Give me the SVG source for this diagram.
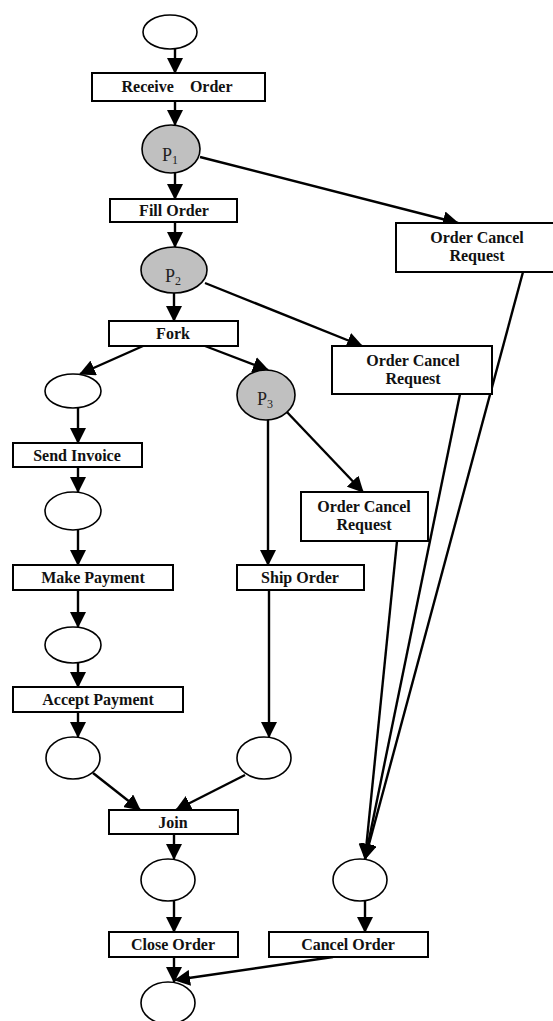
<svg xmlns="http://www.w3.org/2000/svg" width="553" height="1021" viewBox="0 0 553 1021">
<style>
.box{fill:#fff;stroke:#000;stroke-width:2}
.pl{fill:#fff;stroke:#000;stroke-width:1.6}
.pg{fill:#c0c0c0;stroke:#000;stroke-width:1.6}
.t{font-family:"Liberation Serif","Times New Roman",serif;font-weight:bold;font-size:16px;text-anchor:middle;fill:#111}
.p{font-family:"Liberation Serif","Times New Roman",serif;font-size:18px;fill:#222}
.s{font-size:12px}
.c line{stroke:#000;stroke-width:2.4;marker-end:url(#ah)}
</style>
<defs>
<marker id="ah" viewBox="0 0 16 16" refX="15" refY="8" markerWidth="16" markerHeight="16" markerUnits="userSpaceOnUse" orient="auto">
<path d="M0,0 L16,8 L0,16 Z" fill="#000"/>
</marker>
</defs>
<g id="connectors" class="c">
<line x1="175" y1="49" x2="175" y2="73"/>
<line x1="175" y1="101" x2="175" y2="125"/>
<line x1="175" y1="173" x2="175" y2="199"/>
<line x1="200" y1="157" x2="458" y2="223"/>
<line x1="175" y1="222" x2="175" y2="247"/>
<line x1="174" y1="293" x2="174" y2="321"/>
<line x1="205" y1="283" x2="362" y2="346"/>
<line x1="143" y1="346" x2="80" y2="374"/>
<line x1="205" y1="346" x2="268" y2="370"/>
<line x1="78" y1="407" x2="78" y2="443"/>
<line x1="78" y1="467" x2="78" y2="492"/>
<line x1="78" y1="530" x2="78" y2="565"/>
<line x1="78" y1="590" x2="78" y2="627"/>
<line x1="78" y1="663" x2="78" y2="687"/>
<line x1="78" y1="712" x2="78" y2="737"/>
<line x1="268" y1="419" x2="268" y2="565"/>
<line x1="285" y1="410" x2="363" y2="492"/>
<line x1="269" y1="590" x2="269" y2="737"/>
<line x1="93" y1="773" x2="140" y2="810"/>
<line x1="245" y1="775" x2="176" y2="810"/>
<line x1="174" y1="834" x2="174" y2="859"/>
<line x1="174" y1="901" x2="174" y2="932"/>
<line x1="174" y1="957" x2="174" y2="982"/>
<line x1="523" y1="272" x2="365" y2="859"/>
<line x1="460" y1="394" x2="365" y2="859"/>
<line x1="397" y1="541" x2="365" y2="859"/>
<line x1="365" y1="901" x2="365" y2="932"/>
<line x1="333" y1="957" x2="175" y2="980"/>
</g>
<g id="start"><ellipse class="pl" cx="170" cy="32" rx="27" ry="17"/></g>
<g id="receive-order"><rect class="box" x="92" y="73" width="173" height="28"/><text class="t" x="177" y="92" xml:space="preserve">Receive    Order</text></g>
<g id="p1"><ellipse class="pg" cx="171" cy="149" rx="29" ry="24"/><text class="p" x="162" y="161">P<tspan class="s" dy="3">1</tspan></text></g>
<g id="fill-order"><rect class="box" x="110" y="199" width="127" height="23"/><text class="t" x="174" y="216">Fill Order</text></g>
<g id="ocr1"><rect class="box" x="396" y="223" width="164" height="49"/><text class="t" x="477" y="243">Order Cancel</text><text class="t" x="477" y="261">Request</text></g>
<g id="p2"><ellipse class="pg" cx="174" cy="270" rx="33" ry="23"/><text class="p" x="165" y="282">P<tspan class="s" dy="3">2</tspan></text></g>
<g id="fork"><rect class="box" x="109" y="321" width="129" height="25"/><text class="t" x="173" y="339">Fork</text></g>
<g id="ocr2"><rect class="box" x="332" y="346" width="160" height="48"/><text class="t" x="413" y="366">Order Cancel</text><text class="t" x="413" y="384">Request</text></g>
<g id="e1"><ellipse class="pl" cx="73" cy="391" rx="28" ry="17"/></g>
<g id="p3"><ellipse class="pg" cx="266" cy="395" rx="29" ry="25"/><text class="p" x="257" y="405">P<tspan class="s" dy="3">3</tspan></text></g>
<g id="send-invoice"><rect class="box" x="13" y="443" width="129" height="24"/><text class="t" x="77" y="461">Send Invoice</text></g>
<g id="ocr3"><rect class="box" x="301" y="492" width="127" height="49"/><text class="t" x="364" y="512">Order Cancel</text><text class="t" x="364" y="530">Request</text></g>
<g id="e2"><ellipse class="pl" cx="73" cy="511" rx="28" ry="19"/></g>
<g id="make-payment"><rect class="box" x="13" y="565" width="160" height="25"/><text class="t" x="93" y="583">Make Payment</text></g>
<g id="ship-order"><rect class="box" x="237" y="565" width="127" height="25"/><text class="t" x="300" y="583">Ship Order</text></g>
<g id="e3"><ellipse class="pl" cx="73" cy="645" rx="28" ry="18"/></g>
<g id="accept-payment"><rect class="box" x="13" y="687" width="170" height="25"/><text class="t" x="98" y="705">Accept Payment</text></g>
<g id="e4"><ellipse class="pl" cx="73" cy="758" rx="27" ry="21"/></g>
<g id="e5"><ellipse class="pl" cx="264" cy="758" rx="27" ry="21"/></g>
<g id="join"><rect class="box" x="109" y="810" width="129" height="24"/><text class="t" x="173" y="828">Join</text></g>
<g id="e6"><ellipse class="pl" cx="168" cy="880" rx="27" ry="21"/></g>
<g id="cancel-place"><ellipse class="pl" cx="360" cy="880" rx="27" ry="21"/></g>
<g id="close-order"><rect class="box" x="109" y="932" width="129" height="25"/><text class="t" x="173" y="950">Close Order</text></g>
<g id="cancel-order"><rect class="box" x="269" y="932" width="159" height="25"/><text class="t" x="348" y="950">Cancel Order</text></g>
<g id="end"><ellipse class="pl" cx="168" cy="1003" rx="27" ry="21"/></g>
</svg>
